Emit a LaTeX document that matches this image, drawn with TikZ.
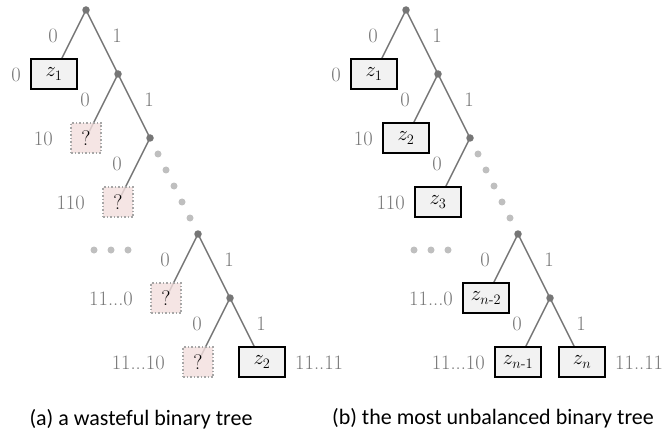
\documentclass[tikz,border=0pt]{standalone}
\usepackage{amsmath}
\usepackage{fontspec}
\newfontfamily\capfont{Carlito}
\usetikzlibrary{backgrounds,calc}

\definecolor{edgegray}{RGB}{118,118,118}
\definecolor{codegray}{RGB}{118,118,118}
\definecolor{dotgray}{RGB}{191,191,191}
\definecolor{boxfill}{RGB}{242,242,242}
\definecolor{qfill}{RGB}{242,222,221}
\definecolor{qborder}{RGB}{166,166,166}

\tikzset{
  inner/.style={circle, fill=edgegray, inner sep=0pt, minimum size=7.5pt},
  more/.style={circle, fill=dotgray, inner sep=0pt, minimum size=7pt},
  leaf/.style={draw=black, line width=2pt, fill=boxfill, minimum width=46pt,
    minimum height=30pt, inner sep=0pt, font=\fontsize{21}{24}\selectfont},
  unknown/.style={draw=qborder, dotted, line width=1.5pt, fill=qfill,
    fill opacity=0.8, text opacity=1, minimum size=30pt, inner sep=0pt,
    font=\fontsize{21}{24}\selectfont},
  bit/.style={text=codegray, inner sep=0pt, font=\fontsize{20.5}{24}\selectfont},
  branch/.style={draw=edgegray, line width=1.5pt},
  caption/.style={inner sep=0pt, font=\capfont\fontsize{22}{26}\selectfont}
}

\begin{document}
\begin{tikzpicture}[x=1pt, y=-1pt]
%\draw [help lines] (0,0) grid[step=32] (664,433);
\useasboundingbox (0,0) rectangle (664,433);
% (a) wasteful tree
\node [inner] (a0) at (86,10) {};
\node [leaf] (a-z1) at (54,74) {$z_1$};
\node [inner] (a1) at (118,74) {};
\node [unknown] (a-q1) at (86,138) {?};
\node [inner] (a2) at (150,138) {};
\node [unknown] (a-q2) at (118,202) {?};
\node [inner] (a3) at (198,234) {};
\node [unknown] (a-q3) at (166,298) {?};
\node [inner] (a4) at (230,298) {};
\node [unknown] (a-q4) at (198,362) {?};
\node [leaf] (a-z2) at (262,362) {$z_2$};
\foreach \t in {1,...,5}
  \node [more] (a-more\t) at ($(a2)!\t/6!(a3)$) {};
\node [more] (a-gap1) at (94,250) {};
\node [more] (a-gap2) at (111,250) {};
\node [more] (a-gap3) at (128,250) {};
\node [bit] (a0-l) at (53,36) {0};
\node [bit] (a0-r) at (117,36) {1};
\node [bit] (a1-l) at (85,100) {0};
\node [bit] (a1-r) at (149,100) {1};
\node [bit] (a2-l) at (117,164) {0};
\node [bit] (a3-l) at (165,260) {0};
\node [bit] (a3-r) at (229,260) {1};
\node [bit] (a4-l) at (197,324) {0};
\node [bit] (a4-r) at (261,324) {1};
\node [bit, anchor=east] (a-c1) at (21,75) {0};
\node [bit, anchor=east] (a-c2) at (53,139) {10};
\node [bit, anchor=east] (a-c3) at (85,203) {110};
\node [bit, anchor=east] (a-c4) at (133,299) {11...0};
\node [bit, anchor=east] (a-c5) at (165,363) {11...10};
\node [bit, anchor=west] (a-c6) at (295,363) {11..11};
% (b) unbalanced tree
\node [inner] (b0) at (406,10) {};
\node [leaf] (b-z1) at (374,74) {$z_1$};
\node [inner] (b1) at (438,74) {};
\node [leaf] (b-z2) at (406,138) {$z_2$};
\node [inner] (b2) at (470,138) {};
\node [leaf] (b-z3) at (438,202) {$z_3$};
\node [inner] (b3) at (518,234) {};
\node [leaf] (b-zn2) at (486,298) {$z_{n\text{-}2}$};
\node [inner] (b4) at (550,298) {};
\node [leaf] (b-zn1) at (518,362) {$z_{n\text{-}1}$};
\node [leaf] (b-zn) at (582,362) {$z_n$};
\foreach \t in {1,...,5}
  \node [more] (b-more\t) at ($(b2)!\t/6!(b3)$) {};
\node [more] (b-gap1) at (414,250) {};
\node [more] (b-gap2) at (431,250) {};
\node [more] (b-gap3) at (448,250) {};
\node [bit] (b0-l) at (373,36) {0};
\node [bit] (b0-r) at (437,36) {1};
\node [bit] (b1-l) at (405,100) {0};
\node [bit] (b1-r) at (469,100) {1};
\node [bit] (b2-l) at (437,164) {0};
\node [bit] (b3-l) at (485,260) {0};
\node [bit] (b3-r) at (549,260) {1};
\node [bit] (b4-l) at (517,324) {0};
\node [bit] (b4-r) at (581,324) {1};
\node [bit, anchor=east] (b-c1) at (341,75) {0};
\node [bit, anchor=east] (b-c2) at (373,139) {10};
\node [bit, anchor=east] (b-c3) at (405,203) {110};
\node [bit, anchor=east] (b-c4) at (453,299) {11...0};
\node [bit, anchor=east] (b-c5) at (485,363) {11...10};
\node [bit, anchor=west] (b-c6) at (615,363) {11..11};
% branches behind the boxes
\begin{scope}[on background layer]
\draw [branch] (a0.center) -- (a-z1.center);
\draw [branch] (a0.center) -- (a1.center);
\draw [branch] (a1.center) -- (a-q1.center);
\draw [branch] (a1.center) -- (a2.center);
\draw [branch] (a2.center) -- (a-q2.center);
\draw [branch] (a3.center) -- (a-q3.center);
\draw [branch] (a3.center) -- (a4.center);
\draw [branch] (a4.center) -- (a-q4.center);
\draw [branch] (a4.center) -- (a-z2.center);
\draw [branch] (b0.center) -- (b-z1.center);
\draw [branch] (b0.center) -- (b1.center);
\draw [branch] (b1.center) -- (b-z2.center);
\draw [branch] (b1.center) -- (b2.center);
\draw [branch] (b2.center) -- (b-z3.center);
\draw [branch] (b3.center) -- (b-zn2.center);
\draw [branch] (b3.center) -- (b4.center);
\draw [branch] (b4.center) -- (b-zn1.center);
\draw [branch] (b4.center) -- (b-zn.center);
\end{scope}
\node [caption] (a-cap) at (141,419) {(a) a wasteful binary tree};
\node [caption] (b-cap) at (493,418) {(b) the most unbalanced binary tree};
\end{tikzpicture}
\end{document}
